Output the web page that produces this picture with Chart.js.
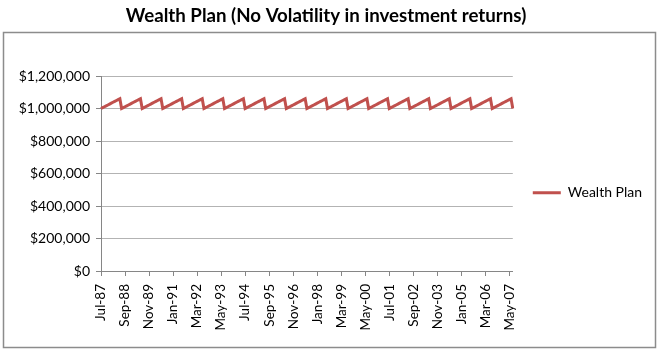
<!DOCTYPE html>
<html>
<head>
<meta charset="utf-8">
<script src="https://cdn.jsdelivr.net/npm/chart.js@4/dist/chart.umd.min.js"></script>
<style>
  html, body { margin: 0; padding: 0; background: #fff; }
  #wrap { width: 659px; height: 351px; }
</style>
</head>
<body>
<div id="wrap"><canvas id="chart" width="659" height="351"></canvas></div>
<script>
// Monthly series, Jul-87 .. Jul-07 (grows through the year, drops back each July)
const wealthPlan = [
    1000000, 1005500, 1011000, 1016500, 1022000, 1027500, 1033000, 1038500, 1044000, 1049500, 1055000, 1060500,
    1000000, 1005500, 1011000, 1016500, 1022000, 1027500, 1033000, 1038500, 1044000, 1049500, 1055000, 1060500,
    1000000, 1005500, 1011000, 1016500, 1022000, 1027500, 1033000, 1038500, 1044000, 1049500, 1055000, 1060500,
    1000000, 1005500, 1011000, 1016500, 1022000, 1027500, 1033000, 1038500, 1044000, 1049500, 1055000, 1060500,
    1000000, 1005500, 1011000, 1016500, 1022000, 1027500, 1033000, 1038500, 1044000, 1049500, 1055000, 1060500,
    1000000, 1005500, 1011000, 1016500, 1022000, 1027500, 1033000, 1038500, 1044000, 1049500, 1055000, 1060500,
    1000000, 1005500, 1011000, 1016500, 1022000, 1027500, 1033000, 1038500, 1044000, 1049500, 1055000, 1060500,
    1000000, 1005500, 1011000, 1016500, 1022000, 1027500, 1033000, 1038500, 1044000, 1049500, 1055000, 1060500,
    1000000, 1005500, 1011000, 1016500, 1022000, 1027500, 1033000, 1038500, 1044000, 1049500, 1055000, 1060500,
    1000000, 1005500, 1011000, 1016500, 1022000, 1027500, 1033000, 1038500, 1044000, 1049500, 1055000, 1060500,
    1000000, 1005500, 1011000, 1016500, 1022000, 1027500, 1033000, 1038500, 1044000, 1049500, 1055000, 1060500,
    1000000, 1005500, 1011000, 1016500, 1022000, 1027500, 1033000, 1038500, 1044000, 1049500, 1055000, 1060500,
    1000000, 1005500, 1011000, 1016500, 1022000, 1027500, 1033000, 1038500, 1044000, 1049500, 1055000, 1060500,
    1000000, 1005500, 1011000, 1016500, 1022000, 1027500, 1033000, 1038500, 1044000, 1049500, 1055000, 1060500,
    1000000, 1005500, 1011000, 1016500, 1022000, 1027500, 1033000, 1038500, 1044000, 1049500, 1055000, 1060500,
    1000000, 1005500, 1011000, 1016500, 1022000, 1027500, 1033000, 1038500, 1044000, 1049500, 1055000, 1060500,
    1000000, 1005500, 1011000, 1016500, 1022000, 1027500, 1033000, 1038500, 1044000, 1049500, 1055000, 1060500,
    1000000, 1005500, 1011000, 1016500, 1022000, 1027500, 1033000, 1038500, 1044000, 1049500, 1055000, 1060500,
    1000000, 1005500, 1011000, 1016500, 1022000, 1027500, 1033000, 1038500, 1044000, 1049500, 1055000, 1060500,
    1000000, 1005500, 1011000, 1016500, 1022000, 1027500, 1033000, 1038500, 1044000, 1049500, 1055000, 1060500,
    1000000
];

// Month labels: Jul-87 onwards, one per point
const monthNames = ['Jan', 'Feb', 'Mar', 'Apr', 'May', 'Jun', 'Jul', 'Aug', 'Sep', 'Oct', 'Nov', 'Dec'];
const categories = wealthPlan.map((v, i) => {
    const m = 6 + i;
    const yr = 1987 + Math.floor(m / 12);
    return monthNames[m % 12] + '-' + String(yr).slice(2);
});
const labelEvery = 14; // Excel shows every 14th month

const yTicks = [0, 200000, 400000, 600000, 800000, 1000000, 1200000];

const lineRed = '#c0504d';
const gridGrey = '#b3b3b3';
const font = 'Lato';

// Frame round the plot (title sits outside it, like the original)
const framePlugin = {
    id: 'frame',
    afterDraw(chart) {
        const c = chart.ctx;
        c.save();
        c.strokeStyle = '#8c8c8c';
        c.lineWidth = 1.5;
        c.strokeRect(3.5, 32.5, 652, 315);
        c.restore();
    }
};

const ctx = document.getElementById('chart').getContext('2d');
new Chart(ctx, {
    type: 'line',
    data: {
        labels: categories,
        datasets: [{
            label: 'Wealth Plan',
            data: wealthPlan,
            borderColor: lineRed,
            backgroundColor: lineRed,
            borderWidth: 3,
            pointRadius: 0,
            tension: 0,
            fill: false
        }]
    },
    options: {
        responsive: false,
        animation: false,
        layout: { padding: { left: 0, right: 7, top: 0, bottom: 0 } },
        plugins: {
            title: {
                display: true,
                text: 'Wealth Plan (No Volatility in investment returns)',
                color: '#000',
                font: { family: font, size: 18.7, weight: 'bold' },
                padding: { top: 5, bottom: 48.6 }
            },
            legend: {
                position: 'right',
                // empty title just nudges the entry down to where Excel puts it
                title: { display: true, text: ' ', font: { size: 12 }, padding: { top: 0, bottom: 20 } },
                labels: {
                    color: '#000',
                    font: { family: font, size: 14 },
                    boxWidth: 28,
                    boxHeight: 3,
                    padding: 20,
                    generateLabels(chart) {
                        return [{
                            text: 'Wealth Plan',
                            fillStyle: lineRed,
                            strokeStyle: lineRed,
                            fontColor: '#000',
                            lineWidth: 0,
                            datasetIndex: 0
                        }];
                    }
                }
            },
            tooltip: { enabled: false }
        },
        scales: {
            x: {
                afterFit(scale) { scale.height = 80; },
                grid: {
                    display: true,
                    drawOnChartArea: false,
                    drawTicks: true,
                    tickLength: 5,
                    color: '#868686'
                },
                border: { display: true, color: '#868686' },
                ticks: {
                    autoSkip: false,
                    minRotation: 90,
                    maxRotation: 90,
                    padding: 8,
                    color: '#000',
                    font: { family: font, size: 13.5 },
                    callback: function (value, index) {
                        return index % labelEvery === 0 ? this.getLabelForValue(value) : null;
                    }
                }
            },
            y: {
                min: 0,
                max: 1200000,
                afterFit(scale) { scale.width = 101; },
                afterBuildTicks(scale) { scale.ticks = yTicks.map(v => ({ value: v })); },
                grid: {
                    color: gridGrey,
                    tickLength: 5,
                    tickColor: '#868686'
                },
                border: { display: true, color: '#868686' },
                ticks: {
                    padding: 6,
                    color: '#000',
                    font: { family: font, size: 14 },
                    callback: v => '$' + v.toLocaleString('en-US')
                }
            }
        }
    },
    plugins: [framePlugin]
});
</script>
</body>
</html>
